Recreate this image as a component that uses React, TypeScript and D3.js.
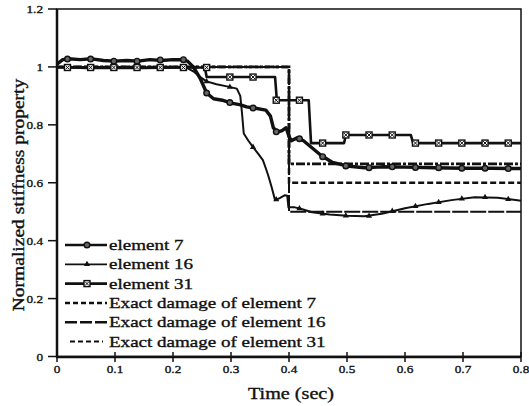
import React, { useEffect, useRef } from 'react';
import * as d3 from 'd3';

// Values (time in sec, normalized stiffness)
const element7 = [
  [0, 1.01], [0.01, 1.025], [0.02, 1.028], [0.04, 1.025], [0.06, 1.028], [0.08, 1.022],
  [0.1, 1.02], [0.12, 1.022], [0.14, 1.02], [0.16, 1.025], [0.18, 1.022], [0.2, 1.025],
  [0.215, 1.025], [0.225, 1.02], [0.235, 1.0], [0.247, 0.96], [0.258, 0.91], [0.27, 0.89],
  [0.285, 0.885], [0.3, 0.875], [0.315, 0.87], [0.327, 0.862], [0.34, 0.858], [0.36, 0.851],
  [0.368, 0.83], [0.373, 0.79], [0.38, 0.775], [0.388, 0.78], [0.395, 0.79], [0.4, 0.76],
  [0.404, 0.745], [0.414, 0.755], [0.425, 0.745], [0.44, 0.72], [0.455, 0.695], [0.475, 0.67],
  [0.5, 0.658], [0.53, 0.652], [0.56, 0.655], [0.6, 0.654], [0.65, 0.652], [0.7, 0.65],
  [0.75, 0.65], [0.8, 0.649],
];

const element16 = [
  [0, 1.0], [0.05, 0.995], [0.1, 0.995], [0.15, 0.995], [0.2, 0.997], [0.224, 0.997],
  [0.235, 0.985], [0.247, 0.965], [0.258, 0.95], [0.275, 0.94], [0.295, 0.932], [0.31, 0.925],
  [0.316, 0.9], [0.319, 0.84], [0.322, 0.77], [0.33, 0.745], [0.338, 0.723], [0.347, 0.7],
  [0.355, 0.678], [0.36, 0.65], [0.365, 0.62], [0.37, 0.585], [0.376, 0.54], [0.384, 0.547],
  [0.393, 0.557], [0.397, 0.555], [0.399, 0.515], [0.41, 0.515], [0.42, 0.51], [0.44, 0.498],
  [0.47, 0.49], [0.5, 0.486], [0.53, 0.484], [0.56, 0.493], [0.6, 0.512], [0.64, 0.527],
  [0.68, 0.54], [0.72, 0.55], [0.76, 0.548], [0.8, 0.538],
];

const element31 = [
  [0, 0.998], [0.255, 0.998], [0.258, 0.965], [0.376, 0.965], [0.379, 0.885], [0.434, 0.885],
  [0.438, 0.737], [0.495, 0.737], [0.498, 0.765], [0.61, 0.765], [0.614, 0.737], [0.8, 0.737],
];

const exact7 = [[0, 1], [0.4, 1], [0.4, 0.6], [0.8, 0.6]];
const exact16 = [[0, 1], [0.4, 1], [0.4, 0.5], [0.8, 0.5]];
const exact31 = [[0, 1], [0.4, 1], [0.4, 0.665], [0.8, 0.665]];

// marker positions along the measured curves
const markerTimes = [0.018, 0.058, 0.098, 0.138, 0.178, 0.218, 0.258, 0.298, 0.338, 0.378,
  0.418, 0.458, 0.498, 0.538, 0.578, 0.618, 0.658, 0.698, 0.738, 0.778];
const marker7 = [1.027, 1.027, 1.02, 1.02, 1.024, 1.025, 0.91, 0.877, 0.858, 0.776,
  0.752, 0.69, 0.658, 0.652, 0.655, 0.653, 0.652, 0.65, 0.65, 0.649];
const marker16 = [0.998, 0.995, 0.995, 0.995, 0.996, 0.997, 0.95, 0.931, 0.723, 0.542,
  0.511, 0.493, 0.486, 0.485, 0.502, 0.519, 0.533, 0.545, 0.55, 0.543];
const marker31 = [0.998, 0.998, 0.998, 0.998, 0.998, 0.998, 0.998, 0.965, 0.965, 0.885,
  0.885, 0.737, 0.765, 0.765, 0.765, 0.737, 0.737, 0.737, 0.737, 0.737];

const xTicks = [0, 0.1, 0.2, 0.3, 0.4, 0.5, 0.6, 0.7, 0.8];
const yTicks = [0, 0.2, 0.4, 0.6, 0.8, 1, 1.2];
const legendLabels = [
  'element 7', 'element 16', 'element 31',
  'Exact damage of element 7', 'Exact damage of element 16', 'Exact damage of element 31',
];

const FONT = '"Liberation Serif", "Times New Roman", serif';
const INK = '#111';

const App = () => {
  const svgRef = useRef(null);

  useEffect(() => {
    const W = 529, H = 406;
    const svg = d3.select(svgRef.current);
    svg.selectAll('*').remove();
    svg.attr('width', W).attr('height', H);

    const x = d3.scaleLinear().domain([0, 0.8]).range([57, 521]);
    const y = d3.scaleLinear().domain([0, 1.2]).range([356.5, 9]);

    const line = d3.line().x(d => x(d[0])).y(d => y(d[1]));

    // stretched serif text, the scan is wider than a plain Times face
    const text = (sel, str, tx, ty, size, sx, anchor = 'start', rot = 0) =>
      sel.append('text')
        .attr('transform', `translate(${tx},${ty}) rotate(${rot}) scale(${sx},1)`)
        .attr('font-family', FONT)
        .attr('font-size', size)
        .attr('fill', INK)
        .attr('stroke', INK)
        .attr('stroke-width', 0.35)
        .attr('text-anchor', anchor)
        .text(str);

    // exact damage lines
    const exacts = [
      { data: exact7, dash: '6,3', w: 2.5 },
      { data: exact16, dash: '16,2', w: 2 },
      { data: exact31, dash: '9,2,3,2', w: 2.8 },
    ];
    exacts.forEach(e => {
      svg.append('path').datum(e.data).attr('d', line)
        .attr('fill', 'none').attr('stroke', INK)
        .attr('stroke-width', e.w).attr('stroke-dasharray', e.dash);
    });

    // measured curves
    const curves = [
      { data: element7, w: 3.4, marks: marker7, kind: 'circle' },
      { data: element16, w: 2, marks: marker16, kind: 'triangle' },
      { data: element31, w: 2.6, marks: marker31, kind: 'square' },
    ];

    const drawMarker = (g, kind, cx, cy) => {
      if (kind === 'circle') {
        g.append('circle').attr('cx', cx).attr('cy', cy).attr('r', 2.8)
          .attr('fill', '#666').attr('stroke', INK).attr('stroke-width', 1.4);
      } else if (kind === 'triangle') {
        g.append('path')
          .attr('d', d3.symbol(d3.symbolTriangle, 16)())
          .attr('transform', `translate(${cx},${cy})`)
          .attr('fill', INK);
      } else {
        g.append('rect').attr('x', cx - 3).attr('y', cy - 3)
          .attr('width', 6).attr('height', 6)
          .attr('fill', '#fff').attr('stroke', INK).attr('stroke-width', 1.4);
        g.append('path')
          .attr('d', `M${cx - 2},${cy - 2}L${cx + 2},${cy + 2}M${cx + 2},${cy - 2}L${cx - 2},${cy + 2}`)
          .attr('stroke', INK).attr('stroke-width', 1);
      }
    };

    curves.forEach(c => {
      svg.append('path').datum(c.data).attr('d', line)
        .attr('fill', 'none').attr('stroke', INK)
        .attr('stroke-width', c.w).attr('stroke-linejoin', 'round');
      const g = svg.append('g');
      markerTimes.forEach((t, i) => drawMarker(g, c.kind, x(t), y(c.marks[i])));
    });

    // frame
    svg.append('rect').attr('x', 57).attr('y', 9)
      .attr('width', 521 - 57).attr('height', 356.5 - 9)
      .attr('fill', 'none').attr('stroke', INK).attr('stroke-width', 1.5);
    svg.append('line').attr('x1', 57).attr('x2', 57).attr('y1', 9).attr('y2', 357.5)
      .attr('stroke', INK).attr('stroke-width', 2.5);
    svg.append('line').attr('x1', 56).attr('x2', 521).attr('y1', 357).attr('y2', 357)
      .attr('stroke', INK).attr('stroke-width', 2.5);

    // ticks + labels
    yTicks.forEach(v => {
      svg.append('line').attr('x1', 48).attr('x2', 57).attr('y1', y(v)).attr('y2', y(v))
        .attr('stroke', INK).attr('stroke-width', 1.5);
      text(svg, v === 0 || v === 1 ? String(v) : v.toFixed(1), 43, y(v) + 4, 11, 1.2, 'end');
    });
    xTicks.forEach(v => {
      svg.append('line').attr('x1', x(v)).attr('x2', x(v)).attr('y1', 352).attr('y2', 362)
        .attr('stroke', INK).attr('stroke-width', 1.5);
      text(svg, v === 0 ? '0' : v.toFixed(1), x(v), 373, 11, 1.2, 'middle');
    });

    text(svg, 'Time (sec)', 291, 399, 16, 1.26, 'middle');
    text(svg, 'Normalized stiffness property', 24, 195, 16, 1.22, 'middle', -90);

    // legend
    const legendStyles = [
      { w: 2.6, dash: null, kind: 'circle' },
      { w: 1.8, dash: null, kind: 'triangle' },
      { w: 2.6, dash: null, kind: 'square' },
      { w: 2.5, dash: '5,3', kind: null },
      { w: 2.6, dash: '12,3', kind: null },
      { w: 2, dash: '5,3', kind: null },
    ];
    const lg = svg.append('g');
    legendLabels.forEach((lab, i) => {
      const ly = 245 + i * 19.3;
      const s = legendStyles[i];
      const x0 = i === 5 ? 70 : 65;
      const x1 = i === 5 ? 103 : 107;
      const ln = lg.append('line').attr('x1', x0).attr('x2', x1).attr('y1', ly).attr('y2', ly)
        .attr('stroke', INK).attr('stroke-width', s.w);
      if (s.dash) ln.attr('stroke-dasharray', s.dash);
      if (s.kind) drawMarker(lg, s.kind, 87, ly);
      text(lg, lab, 109, ly + 5, 15, 1.27);
    });
  }, []);

  return (
    <svg ref={svgRef} style={{ position: 'absolute', left: 0, top: 0, background: '#fff' }} />
  );
};

export default App;
